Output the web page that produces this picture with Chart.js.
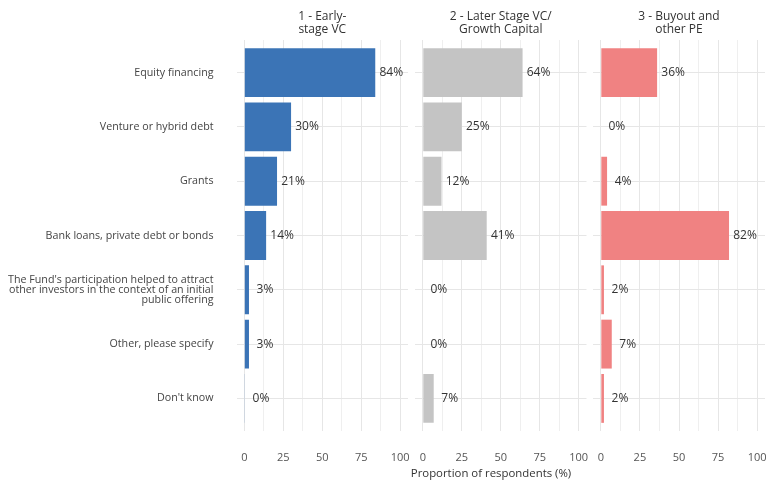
<!DOCTYPE html>
<html>
<head>
<meta charset="utf-8">
<script src="https://cdn.jsdelivr.net/npm/chart.js@4.4.1/dist/chart.umd.min.js"></script>
<style>
  html, body { margin: 0; padding: 0; background: #fff; }
  #wrap { position: relative; width: 768px; height: 482px; overflow: hidden; font-family: "Open Sans", sans-serif; }
  canvas { position: absolute; top: 0; }
  .strip { position: absolute; top: 10px; text-align: center; font-size: 12px; line-height: 12.5px; color: #333; }
  .xtitle { position: absolute; top: 465px; left: 391px; width: 200px; text-align: center; font-size: 11.4px; color: #333; }
</style>
</head>
<body>
<div id="wrap">
  <canvas id="c1" width="410" height="482" style="left:0px"></canvas>
  <canvas id="c2" width="180" height="482" style="left:410px"></canvas>
  <canvas id="c3" width="178" height="482" style="left:590px"></canvas>
  <div class="xtitle">Proportion of respondents (%)</div>
</div>
<script>
// 데이터
const categories = [
    'Equity financing',
    'Venture or hybrid debt',
    'Grants',
    'Bank loans, private debt or bonds',
    ["The Fund's participation helped to attract", 'other investors in the context of an initial', 'public offering'],
    'Other, please specify',
    "Don't know"
];
const earlyVC = [84, 30, 21, 14, 3, 3, 0.4];
const laterVC = [64, 25, 12, 41, 0, 0, 7];
const buyout = [36, 0, 4, 82, 2, 7, 2];
const facetTitles = [
    ['1 - Early-', 'stage VC'],
    ['2 - Later Stage VC/', 'Growth Capital'],
    ['3 - Buyout and', 'other PE']
];
const gridTicks = [0, 12.5, 25, 37.5, 50, 62.5, 75, 87.5, 100];

const FONT = '"Open Sans", sans-serif';

// 막대 옆 퍼센트 라벨
const valueLabels = {
    id: 'valueLabels',
    afterDatasetsDraw(chart) {
        const ctx = chart.ctx;
        const meta = chart.getDatasetMeta(0);
        const xs = chart.scales.x;
        ctx.save();
        ctx.font = '12px ' + FONT;
        ctx.fillStyle = '#333';
        ctx.textAlign = 'center';
        ctx.textBaseline = 'middle';
        chart.data.datasets[0].data.forEach((p, i) => {
            const x = xs.getPixelForValue(p.x) + 16;
            ctx.fillText(Math.round(p.x) + '%', x, meta.data[i].y);
        });
        ctx.restore();
    }
};

function makePanel(id, values, color, yWidth, rightPad, showLabels) {
    return new Chart(document.getElementById(id), {
        type: 'bar',
        data: {
            datasets: [{
                data: values.map((v, i) => ({ x: v, y: i })),
                backgroundColor: color,
                borderWidth: 0,
                categoryPercentage: 0.9,
                barPercentage: 1
            }]
        },
        options: {
            indexAxis: 'y',
            responsive: false,
            animation: false,
            devicePixelRatio: 1,
            layout: { padding: { top: 40, right: rightPad, left: 0, bottom: 0 } },
            plugins: { legend: { display: false }, tooltip: { enabled: false } },
            scales: {
                x: {
                    type: 'linear',
                    min: -5,
                    max: 105,
                    afterBuildTicks: (s) => { s.ticks = gridTicks.map(v => ({ value: v })); },
                    afterFit: (s) => { s.height = 51; s.paddingLeft = 0; s.paddingRight = 0; },
                    border: { display: false },
                    grid: {
                        drawTicks: false,
                        color: (c) => (c.tick && c.tick.value % 25 === 0) ? '#e6e6e6' : '#efefef',
                        lineWidth: 1
                    },
                    ticks: {
                        autoSkip: false,
                        maxRotation: 0,
                        padding: 20,
                        color: '#555',
                        font: { family: FONT, size: 11 },
                        callback: (v) => (v % 25 === 0 ? v : '')
                    }
                },
                y: {
                    type: 'linear',
                    reverse: true,
                    min: -0.6,
                    max: categories.length - 0.4,
                    offset: false,
                    afterBuildTicks: (s) => { s.ticks = categories.map((c, i) => ({ value: i })); },
                    afterFit: (s) => { s.width = yWidth; s.paddingTop = 0; s.paddingBottom = 0; },
                    border: { display: false },
                    grid: { offset: false, drawTicks: false, color: '#e6e6e6' },
                    ticks: {
                        display: showLabels,
                        autoSkip: false,
                        padding: 23,
                        color: '#444',
                        font: { family: FONT, size: 10.7, lineHeight: 0.95 },
                        callback: (v) => categories[v]
                    }
                }
            }
        },
        plugins: [valueLabels]
    });
}

const panels = [
    makePanel('c1', earlyVC, '#3b74b6', 236.5, 2, true),
    makePanel('c2', laterVC, '#c4c4c4', 5, 3.5, false),
    makePanel('c3', buyout, '#f08282', 3, 3, false)
];

// 패널 제목
panels.forEach((chart, i) => {
    const area = chart.chartArea;
    const left = chart.canvas.offsetLeft;
    const div = document.createElement('div');
    div.className = 'strip';
    div.style.left = (left + area.left) + 'px';
    div.style.width = (area.right - area.left) + 'px';
    div.innerHTML = facetTitles[i].join('<br>');
    document.getElementById('wrap').appendChild(div);
});
</script>
</body>
</html>
